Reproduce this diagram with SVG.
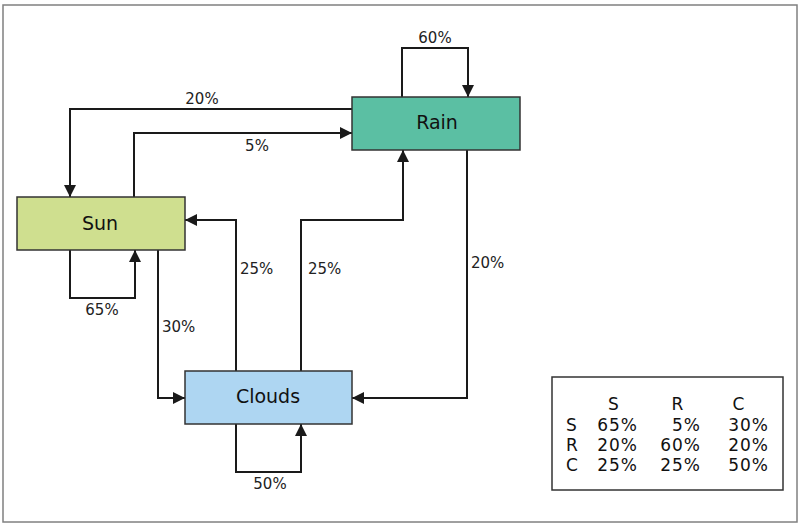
<svg xmlns="http://www.w3.org/2000/svg" width="801" height="526" viewBox="0 0 801 526">
<defs>
<marker id="arr" viewBox="0 0 12 12" refX="12" refY="6" markerWidth="12" markerHeight="12" markerUnits="userSpaceOnUse" orient="auto">
<path d="M0,0 L12,6 L0,12 z" fill="#1a1a1a"/>
</marker>
<style>
.frame{fill:#ffffff;stroke:#808080;stroke-width:1.5}
.box{stroke:#333333;stroke-width:1.5}
.edge{fill:none;stroke:#1a1a1a;stroke-width:2;marker-end:url(#arr)}
.nl{font-family:"DejaVu Sans","Liberation Sans",sans-serif;font-size:19px;fill:#111111;text-anchor:middle}
.el{font-family:"DejaVu Sans","Liberation Sans",sans-serif;font-size:15px;fill:#222222}
.tb{font-family:"DejaVu Sans","Liberation Sans",sans-serif;font-size:17px;letter-spacing:1px;fill:#111111}
</style>
</defs>
<rect class="frame" x="3" y="5" width="794" height="517"/>

<g id="connectors">
<path class="edge" d="M352,109 H70 V197"/>
<path class="edge" d="M134,197 V133 H352"/>
<path class="edge" d="M402,97 V48 H468 V97"/>
<path class="edge" d="M70,250 V298 H135 V250"/>
<path class="edge" d="M158,250 V398 H185"/>
<path class="edge" d="M236,371 V220 H185"/>
<path class="edge" d="M301,371 V220 H403 V150"/>
<path class="edge" d="M467,150 V398 H352"/>
<path class="edge" d="M236,424 V472 H301 V424"/>
<text class="el" x="202" y="104" text-anchor="middle">20%</text>
<text class="el" x="257" y="151" text-anchor="middle">5%</text>
<text class="el" x="435" y="43" text-anchor="middle">60%</text>
<text class="el" x="102" y="315" text-anchor="middle">65%</text>
<text class="el" x="162" y="332">30%</text>
<text class="el" x="240" y="274">25%</text>
<text class="el" x="308" y="274">25%</text>
<text class="el" x="471" y="268">20%</text>
<text class="el" x="270" y="489" text-anchor="middle">50%</text>
</g>

<g id="sun">
<rect class="box" x="17" y="197" width="168" height="53" fill="#cfdf8f"/>
<text class="nl" x="100" y="230">Sun</text>
</g>
<g id="rain">
<rect class="box" x="352" y="97" width="168" height="53" fill="#5bbfa3"/>
<text class="nl" x="437" y="129">Rain</text>
</g>
<g id="clouds">
<rect class="box" x="185" y="371" width="167" height="53" fill="#aed6f2"/>
<text class="nl" x="268" y="403">Clouds</text>
</g>

<g id="matrix">
<rect x="552" y="377" width="231" height="113" fill="#ffffff" stroke="#333333" stroke-width="1.5"/>
<text class="tb" x="614" y="410" text-anchor="middle">S</text>
<text class="tb" x="678" y="410" text-anchor="middle">R</text>
<text class="tb" x="739" y="410" text-anchor="middle">C</text>
<text class="tb" x="566" y="431">S</text>
<text class="tb" x="566" y="451">R</text>
<text class="tb" x="566" y="471">C</text>
<text class="tb" x="638" y="431" text-anchor="end">65%</text>
<text class="tb" x="701" y="431" text-anchor="end">5%</text>
<text class="tb" x="769" y="431" text-anchor="end">30%</text>
<text class="tb" x="638" y="451" text-anchor="end">20%</text>
<text class="tb" x="701" y="451" text-anchor="end">60%</text>
<text class="tb" x="769" y="451" text-anchor="end">20%</text>
<text class="tb" x="638" y="471" text-anchor="end">25%</text>
<text class="tb" x="701" y="471" text-anchor="end">25%</text>
<text class="tb" x="769" y="471" text-anchor="end">50%</text>
</g>
</svg>
